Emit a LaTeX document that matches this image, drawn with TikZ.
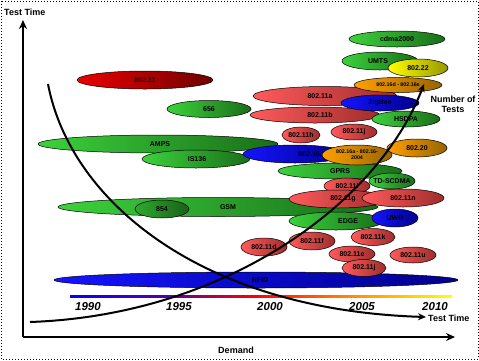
\documentclass[tikz,border=0pt]{standalone}
\usepackage{fontspec}
\setmainfont{Liberation Sans}
\usetikzlibrary{shapes.geometric,arrows.meta}
\definecolor{grL}{RGB}{60,210,60}
\definecolor{grR}{RGB}{25,110,25}
\definecolor{gdL}{RGB}{45,170,45}
\definecolor{gdR}{RGB}{25,95,25}
\definecolor{rdL}{RGB}{255,90,90}
\definecolor{rdR}{RGB}{160,45,45}
\definecolor{drL}{RGB}{235,0,0}
\definecolor{drR}{RGB}{110,0,0}
\definecolor{blL}{RGB}{20,20,255}
\definecolor{blR}{RGB}{0,0,140}
\definecolor{orL}{RGB}{255,160,0}
\definecolor{orR}{RGB}{150,100,0}
\definecolor{ylL}{RGB}{255,255,0}
\definecolor{ylR}{RGB}{150,150,0}
\tikzset{
  blobshape/.style={ellipse, draw=black, line width=0.5pt, inner sep=0pt},
  gr/.style={left color=grL, right color=grR},
  gd/.style={left color=gdL, right color=gdR},
  rd/.style={left color=rdL, right color=rdR},
  dr/.style={left color=drL, right color=drR},
  bl/.style={left color=blL, right color=blR},
  orng/.style={left color=orL, right color=orR},
  yl/.style={left color=ylL, right color=ylR},
  lbl/.style={font=\fontsize{7}{7.5}\selectfont\bfseries, inner sep=0pt, align=center},
  slbl/.style={font=\fontsize{5.3}{6}\selectfont\bfseries, inner sep=0pt, align=center},
  axlbl/.style={font=\fontsize{9}{10}\selectfont\bfseries, inner sep=0pt, align=center},
  yearlbl/.style={font=\fontsize{11.5}{12}\selectfont\bfseries\itshape, inner sep=0pt},
  axis/.style={line width=2.4pt, -{Stealth[length=9pt,width=8pt]}},
  curve/.style={line width=2pt, -{Stealth[length=8pt,width=7pt]}}
}
% name, x, y, rx, ry, colour style, text, text x-offset
\newcommand\myblob[8]{%
  \node[blobshape, #6, minimum width=#4*2, minimum height=#5*2] (#1) at (#2,#3) {};
  \node[lbl] (#1t) at ([xshift=#8]#1.center) {#7};}
\begin{document}
\begin{tikzpicture}[x=1pt,y=-1pt]
\useasboundingbox (0,0) rectangle (479,360);
\fill[white] (0,0) rectangle (479,360);
\draw[dotted, line width=1pt] (1,1) rectangle (478,359);

% top group
\myblob{w80211}{145}{80}{68}{9}{dr}{802.11}{0}
\myblob{cdma}{397}{39}{48}{8}{gr}{cdma2000}{0}
\myblob{umts}{380}{61}{38}{9}{gr}{UMTS}{-2}
\myblob{wran}{418}{68}{30}{9}{yl}{802.22}{0}
\myblob{g656}{209}{109}{42}{8.5}{gr}{656}{0}
\myblob{w11a}{325}{96}{72}{9.5}{rd}{802.11a}{-5}
\myblob{w11b}{315}{115}{65}{8}{rd}{802.11b}{5}
\node[blobshape, orng, minimum width=88, minimum height=15] (w16top) at (398,85) {};
\node[slbl] (w16topt) at (w16top.center) {802.16d - 802.16e};
\myblob{zigbee}{380}{103}{39}{8}{bl}{ZigBee}{0}
\myblob{hsdpa}{406}{119}{34}{8}{gr}{HSDPA}{0}
\myblob{w11h}{301}{135}{19}{8}{rd}{802.11h}{0}
\myblob{w11j}{354}{132}{23}{8}{rd}{802.11j}{0}

% middle group
\myblob{amps}{158}{144}{120}{9}{gr}{AMPS}{2}
\myblob{is136}{196}{159}{54}{9}{gr}{IS136}{1}
\myblob{gprs}{340}{171}{62}{8}{gr}{GPRS}{0}
\myblob{bt}{295}{154}{52}{9}{bl}{802.15.1}{17}
\node[blobshape, orng, minimum width=70, minimum height=20] (w16low) at (357,155) {};
\node[slbl] (w16lowt) at (w16low.center) {802.16a - 802.16-\\2004};
\myblob{w20}{417}{148}{30}{9}{orng}{802.20}{0}
\myblob{tds}{392}{181}{23}{8}{gr}{TD-SCDMA}{0}
\myblob{w11i}{347}{186}{23}{8}{rd}{802.11i}{0}
\myblob{gsm}{218}{207}{160}{9.5}{gr}{GSM}{10}
\myblob{g854}{162}{209}{27}{9}{gd}{854}{0}
\myblob{w11g}{338}{199}{49}{9}{rd}{802.11g}{5}
\myblob{w11n}{403}{198}{41}{9}{rd}{802.11n}{0}
\myblob{edge}{336}{221}{47}{9}{gr}{EDGE}{12}
\myblob{uwb}{395}{218}{23}{9}{bl}{UWB}{0}

% bottom group
\myblob{rfid}{256}{280}{202}{8}{bl}{RFID}{4}
\myblob{w11d}{264}{247}{23}{9}{rd}{802.11d}{0}
\myblob{w11f}{312}{241}{23}{9}{rd}{802.11f}{0}
\myblob{w11k}{373}{237}{22}{8.5}{rd}{802.11k}{0}
\myblob{w11e}{352}{254}{23}{8}{rd}{802.11e}{0}
\myblob{w11u}{413}{255}{23}{8}{rd}{802.11u}{0}
\myblob{w11jb}{364}{268}{22}{8.5}{rd}{802.11j}{0}

% timeline
\shade[left color=blue, right color=blue!65!red] (70,295) rectangle (170,297);
\shade[left color=blue!65!red, right color=red] (170,295) rectangle (255,297);
\shade[left color=red, right color=orange] (255,295) rectangle (340,297);
\shade[left color=orange, right color=yellow] (340,295) rectangle (452,297);
\node[yearlbl] (y1990) at (88,307) {1990};
\node[yearlbl] (y1995) at (179,307) {1995};
\node[yearlbl] (y2000) at (270,307) {2000};
\node[yearlbl] (y2005) at (362,307) {2005};
\node[yearlbl] (y2010) at (435,307) {2010};

% curves
\coordinate (tt0) at (48,84);
\coordinate (tt1) at (426,317);
\draw[curve] (tt0) .. controls (70,200) and (200,310) .. (tt1);
\coordinate (nt0) at (30,322);
\coordinate (nt1) at (424,84);
\draw[curve] (nt0) .. controls (230,315) and (380,200) .. (nt1);

% axes
\coordinate (origin) at (23,337);
\coordinate (ytop) at (23,20);
\coordinate (xend) at (455,337);
\draw[axis] (origin) -- (ytop);
\draw[axis] (origin) -- (xend);

\node[axlbl, anchor=west] (ylab) at (4,12) {Test Time};
\node[axlbl, anchor=west] (ttlab) at (428,318) {Test Time};
\node[axlbl] (ntlab) at (453,104) {Number of\\Tests};
\node[axlbl] (demand) at (236,350) {Demand};
\end{tikzpicture}
\end{document}
